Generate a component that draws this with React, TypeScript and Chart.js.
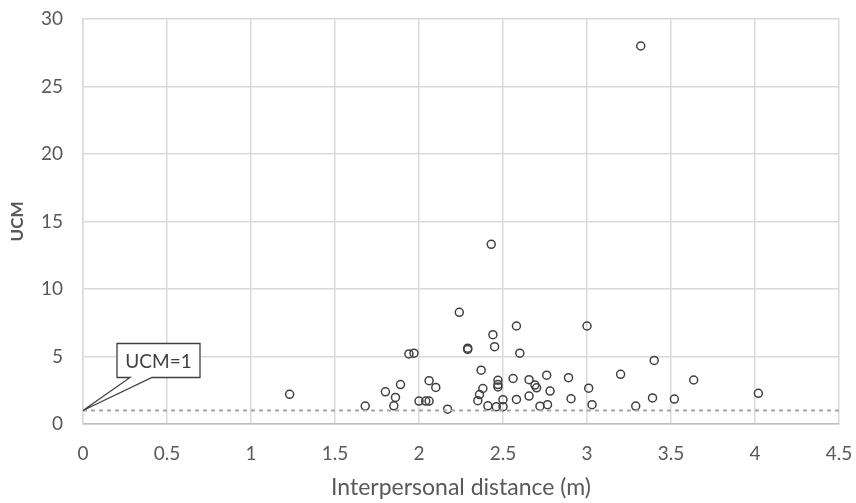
import React, { useEffect, useRef } from "react";
import { Chart, registerables } from "chart.js";

Chart.register(...registerables);

// Interpersonal distance (m)
const distance: number[] = [
  1.23, 1.68, 1.80, 1.86, 1.85, 1.89, 1.94, 1.97, 2.00, 2.04,
  2.06, 2.06, 2.10, 2.17, 2.24, 2.29, 2.29, 2.37, 2.38, 2.36,
  2.35, 2.41, 2.44, 2.45, 2.47, 2.47, 2.47, 2.46, 2.50, 2.50,
  2.43, 2.58, 2.56, 2.58, 2.60, 2.655, 2.655, 2.69, 2.70, 2.72,
  2.76, 2.78, 2.765, 2.89, 2.905, 3.00, 3.01, 3.03, 3.20, 3.40,
  3.29, 3.39, 3.52, 3.635, 4.02, 3.32,
];
// UCM values
const ucm: number[] = [
  2.2, 1.33, 2.38, 1.97, 1.35, 2.92, 5.19, 5.25, 1.70, 1.70,
  1.70, 3.21, 2.71, 1.10, 8.27, 5.62, 5.52, 3.99, 2.63, 2.18,
  1.73, 1.35, 6.62, 5.73, 3.24, 2.92, 2.74, 1.28, 1.80, 1.28,
  13.31, 7.26, 3.37, 1.82, 5.25, 3.28, 2.07, 2.88, 2.68, 1.32,
  3.62, 2.44, 1.43, 3.43, 1.87, 7.26, 2.65, 1.43, 3.68, 4.71,
  1.33, 1.93, 1.85, 3.26, 2.27, 28.0,
];

const refLineX: number[] = [0, 4.5];
const refLineY = 1;
const calloutText = "UCM=1";

const xMin = 0, xMax = 4.5, xStep = 0.5;
const yMin = 0, yMax = 30, yStep = 5;
const xTitle = "Interpersonal distance (m)";
const yTitle = "UCM";

const FONT = "Lato, 'Open Sans', sans-serif";
const TICK_COLOR = "#595959";

const calloutPlugin = {
  id: "callout",
  afterDatasetsDraw(chart: any) {
    const { ctx, scales } = chart;
    const ax = scales.x.getPixelForValue(refLineX[0]);
    const ay = scales.y.getPixelForValue(refLineY);
    const left = ax + 34, right = ax + 117, top = ay - 67, bottom = ay - 33;
    const tailL = ax + 47, tailR = ax + 69;
    ctx.save();
    ctx.beginPath();
    ctx.moveTo(left, top);
    ctx.lineTo(right, top);
    ctx.lineTo(right, bottom);
    ctx.lineTo(tailR, bottom);
    ctx.lineTo(ax, ay);
    ctx.lineTo(tailL, bottom);
    ctx.lineTo(left, bottom);
    ctx.closePath();
    ctx.fillStyle = "#ffffff";
    ctx.fill();
    ctx.strokeStyle = "#404040";
    ctx.lineWidth = 1.3;
    ctx.stroke();
    ctx.fillStyle = "#404040";
    ctx.font = `19px ${FONT}`;
    ctx.textAlign = "center";
    ctx.textBaseline = "middle";
    ctx.fillText(calloutText, (left + right) / 2, (top + bottom) / 2 + 1);
    ctx.restore();
  },
};

export default function App() {
  const ref = useRef<HTMLCanvasElement | null>(null);

  useEffect(() => {
    if (!ref.current) return;
    const points = distance.map((x, i) => ({ x, y: ucm[i] }));
    const refLine = refLineX.map((x) => ({ x, y: refLineY }));
    const chart = new Chart(ref.current, {
      type: "scatter",
      data: {
        datasets: [
          {
            type: "line",
            data: refLine,
            borderColor: "#a6a6a6",
            borderWidth: 2,
            borderDash: [4, 4],
            pointRadius: 0,
            fill: false,
          } as any,
          {
            data: points,
            pointRadius: 4,
            pointBorderWidth: 1.5,
            pointBorderColor: "#404040",
            pointBackgroundColor: "rgba(0,0,0,0)",
            showLine: false,
          },
        ],
      },
      options: {
        responsive: false,
        animation: false,
        layout: { padding: { left: 0, right: 17, top: 19, bottom: 0 } },
        plugins: {
          legend: { display: false },
          tooltip: { enabled: false },
        },
        scales: {
          x: {
            type: "linear",
            min: xMin,
            max: xMax,
            ticks: {
              stepSize: xStep,
              color: TICK_COLOR,
              font: { family: FONT, size: 19 },
              padding: 0,
              callback: (v: any) => String(v),
            },
            grid: {
              color: "#d9d9d9",
              lineWidth: 1.5,
              drawTicks: true,
              tickLength: 18,
              tickColor: "rgba(0,0,0,0)",
            },
            border: { color: "#bfbfbf", width: 1.5 },
            title: {
              display: true,
              text: xTitle,
              color: TICK_COLOR,
              font: { family: FONT, size: 23 },
              padding: { top: 0, bottom: 2 },
            },
            afterFit: (s: any) => {
              s.height = 79;
            },
          },
          y: {
            type: "linear",
            min: yMin,
            max: yMax,
            ticks: {
              stepSize: yStep,
              color: TICK_COLOR,
              font: { family: FONT, size: 19 },
              padding: 0,
              callback: (v: any) => String(v),
            },
            grid: {
              color: "#d9d9d9",
              lineWidth: 1.5,
              drawTicks: true,
              tickLength: 20,
              tickColor: "rgba(0,0,0,0)",
            },
            border: { color: "#d9d9d9", width: 1.5 },
            title: {
              display: true,
              text: yTitle,
              color: TICK_COLOR,
              font: { family: FONT, size: 17, weight: "bold" },
              padding: { top: 7, bottom: 0 },
            },
            afterFit: (s: any) => {
              s.width = 83;
            },
          },
        },
      },
      plugins: [calloutPlugin],
    });
    return () => chart.destroy();
  }, []);

  return (
    <div style={{ position: "absolute", left: 0, top: 0, width: 856, height: 503, background: "#fff" }}>
      <canvas ref={ref} width={856} height={503} />
    </div>
  );
}
